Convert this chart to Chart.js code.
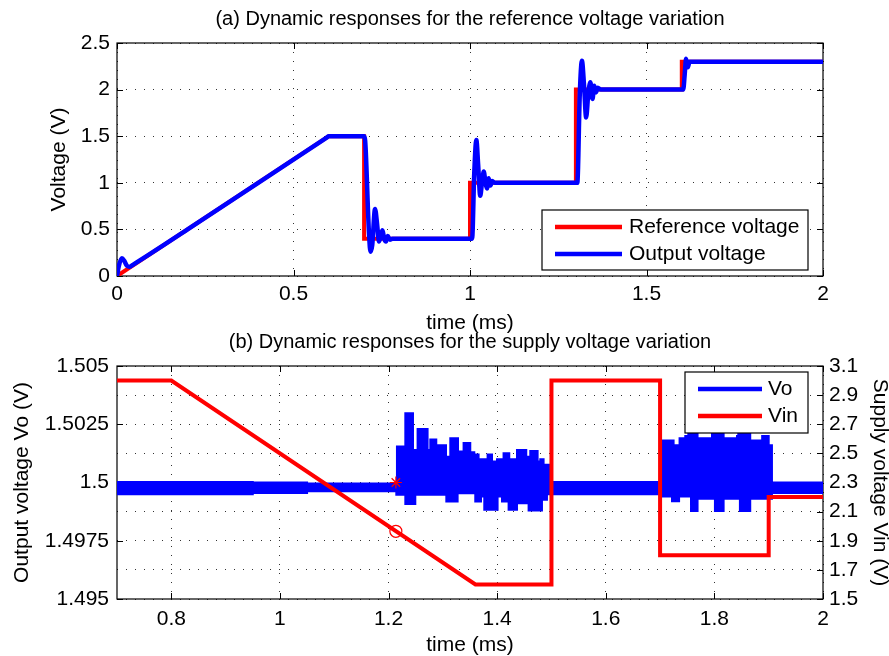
<!DOCTYPE html>
<html>
<head>
<meta charset="utf-8">
<title>Dynamic responses</title>
<script src="https://cdn.jsdelivr.net/npm/chart.js@4.4.0/dist/chart.umd.min.js"></script>
<style>
    html, body { margin: 0; padding: 0; background: #fff; }
    #wrap { position: relative; width: 889px; height: 656px; overflow: hidden; }
    canvas { position: absolute; left: 0; }
    #chartA { top: 0; }
    #chartB { top: 320px; }
</style>
</head>
<body>
<div id="wrap">
    <canvas id="chartA" width="889" height="340"></canvas>
    <canvas id="chartB" width="889" height="336"></canvas>
</div>
<script>
// (a) reference voltage variation
const refTime = [0, 0.6, 0.7, 0.7, 1.0, 1.0, 1.3, 1.3, 1.6, 1.6, 2.0];
const refVolt = [0, 1.5, 1.5, 0.4, 0.4, 1.0, 1.0, 2.0, 2.0, 2.3, 2.3];

const outTime = [0, 0.006, 0.014, 0.021, 0.028, 0.036, 0.045, 0.2, 0.4, 0.594, 0.6,
    0.701, 0.714, 0.718, 0.723, 0.731, 0.737, 0.742, 0.747, 0.752, 0.757, 0.762, 0.767, 0.773, 0.78,
    1.006, 1.012, 1.018, 1.023, 1.029, 1.034, 1.039, 1.044, 1.048, 1.053, 1.058, 1.063, 1.07,
    1.304, 1.311, 1.317, 1.323, 1.329, 1.335, 1.341, 1.347, 1.352, 1.357, 1.362, 1.37,
    1.604, 1.608, 1.612, 1.617, 1.622, 2.0];
const outVolt = [0, 0.12, 0.19, 0.16, 0.11, 0.1, 0.12, 0.5, 1.0, 1.485, 1.5,
    1.5, 0.45, 0.26, 0.33, 0.72, 0.55, 0.37, 0.42, 0.49, 0.4, 0.37, 0.43, 0.39, 0.4,
    0.4, 1.1, 1.46, 1.2, 0.86, 1.0, 1.12, 1.0, 0.94, 1.05, 0.97, 1.02, 1.0,
    1.0, 1.95, 2.31, 2.05, 1.7, 1.95, 2.08, 1.9, 2.04, 1.97, 2.02, 2.0,
    2.0, 2.15, 2.33, 2.24, 2.3, 2.3];

const xTicksA = [0, 0.5, 1, 1.5, 2];
const yTicksA = [0, 0.5, 1, 1.5, 2, 2.5];

// (b) supply voltage variation
const vinTime = [0.7, 0.8, 1.36, 1.5, 1.5, 1.7, 1.7, 1.9, 1.9, 2.0];
const vinVolt = [3.0, 3.0, 1.6, 1.6, 3.0, 3.0, 1.8, 1.8, 2.2, 2.2];

// Vo ripple band, upper and lower edge: each level holds until the next start time
const voHiStart = [0.7, 0.95, 1.05, 1.2155, 1.2309, 1.245, 1.2535, 1.2719, 1.2769, 1.2879, 1.2904,
    1.3058, 1.3137, 1.3279, 1.3382, 1.3505, 1.3579, 1.3658, 1.3824, 1.3905, 1.3997, 1.4118, 1.4223,
    1.4365, 1.4536, 1.461, 1.4745, 1.4794, 1.4855, 1.4978,
    1.7035, 1.7249, 1.7359, 1.7464, 1.752, 1.769, 1.7956, 1.817, 1.8416, 1.844, 1.866, 1.888, 1.9, 1.906];
const voHiLevel = [1.50002, 1.5, 1.49996, 1.50155, 1.50297, 1.5014, 1.5023, 1.5014, 1.50185, 1.5013, 1.5016,
    1.5011, 1.5019, 1.50133, 1.5017, 1.5013, 1.5012, 1.501, 1.5012, 1.5009, 1.501, 1.50126, 1.501,
    1.5014, 1.5011, 1.50135, 1.5009, 1.501, 1.50076, 1.50002,
    1.5018, 1.5016, 1.5019, 1.502, 1.50225, 1.5019, 1.50222, 1.5019, 1.502, 1.50225, 1.5018, 1.502, 1.5016, 1.5];
const voLoStart = [0.7, 0.95, 1.05, 1.2143, 1.2309, 1.2493, 1.3064, 1.3272, 1.3597, 1.3702, 1.3763,
    1.4008, 1.4089, 1.4211, 1.4365, 1.4579, 1.4825, 1.4917,
    1.7035, 1.722, 1.735, 1.757, 1.769, 1.801, 1.817, 1.847, 1.866, 1.906];
const voLoLevel = [1.4995, 1.49955, 1.49962, 1.49947, 1.49908, 1.49947, 1.49918, 1.49954, 1.49918, 1.4994, 1.49883,
    1.4994, 1.49918, 1.49883, 1.49911, 1.4988, 1.49926, 1.4995,
    1.4994, 1.4992, 1.4994, 1.49878, 1.4993, 1.49878, 1.4993, 1.49878, 1.4993, 1.49955];

// marked instant on both traces
const markTime = [1.2135];
const markVo = [1.5];
const markVin = [1.965];

const xTicksB = [0.8, 1, 1.2, 1.4, 1.6, 1.8, 2];
const yTicksVo = [1.495, 1.4975, 1.5, 1.5025, 1.505];
const yTicksVin = [1.5, 1.7, 1.9, 2.1, 2.3, 2.5, 2.7, 2.9, 3.1];

const BLUE = '#0000ff';
const RED = '#ff0000';
const INK = '#000000';
const GRID = 'rgba(0, 0, 0, 0.8)';
const FAMILY = "'Liberation Sans', Arial, Helvetica, sans-serif";
const TEXT = { family: FAMILY, size: 21 };

Chart.defaults.color = INK;
Chart.defaults.font.family = FAMILY;
Chart.defaults.font.size = 21;

function toPoints(xs, ys) {
    return xs.map((x, i) => ({ x: x, y: ys[i] }));
}

function toSteps(starts, levels, end) {
    const pts = [];
    starts.forEach((t, i) => {
        const next = i < starts.length - 1 ? starts[i + 1] : end;
        pts.push({ x: t, y: levels[i] }, { x: next, y: levels[i] });
    });
    return pts;
}

function fixedTicks(list) {
    return scale => { scale.ticks = list.map(v => ({ value: v })); };
}

// black box round the plot area, with short inward tick marks
const axesFrame = {
    id: 'axesFrame',
    beforeDatasetsDraw(chart) {
        const { ctx, chartArea: a } = chart;
        const len = 6;
        const vertical = Object.values(chart.scales).filter(s => !s.isHorizontal());
        ctx.save();
        ctx.strokeStyle = INK;
        ctx.lineWidth = 1.2;
        ctx.strokeRect(a.left, a.top, a.right - a.left, a.bottom - a.top);
        ctx.lineWidth = 1;
        ctx.beginPath();
        Object.values(chart.scales).forEach(s => {
            s.ticks.forEach(t => {
                const p = Math.round(s.getPixelForValue(t.value)) + 0.5;
                if (s.isHorizontal()) {
                    ctx.moveTo(p, a.bottom); ctx.lineTo(p, a.bottom - len);
                    ctx.moveTo(p, a.top); ctx.lineTo(p, a.top + len);
                } else {
                    if (vertical.length === 1 || s.position === 'left') {
                        ctx.moveTo(a.left, p); ctx.lineTo(a.left + len, p);
                    }
                    if (vertical.length === 1 || s.position === 'right') {
                        ctx.moveTo(a.right, p); ctx.lineTo(a.right - len, p);
                    }
                }
            });
        });
        ctx.stroke();
        ctx.restore();
    }
};

// boxed legend drawn at a fixed spot inside the axes
const boxLegend = {
    id: 'boxLegend',
    afterDraw(chart, args, opts) {
        const { ctx } = chart;
        const b = opts.box;
        ctx.save();
        ctx.fillStyle = '#fff';
        ctx.fillRect(b.x, b.y, b.w, b.h);
        ctx.strokeStyle = INK;
        ctx.lineWidth = 1.2;
        ctx.strokeRect(b.x, b.y, b.w, b.h);
        ctx.font = '21px ' + FAMILY;
        ctx.textBaseline = 'middle';
        ctx.textAlign = 'left';
        opts.items.forEach((idx, i) => {
            const ds = chart.data.datasets[idx];
            const y = b.y + opts.rowTop + i * opts.rowGap;
            ctx.strokeStyle = ds.borderColor;
            ctx.lineWidth = 4.5;
            ctx.beginPath();
            ctx.moveTo(b.x + opts.lineLeft, y);
            ctx.lineTo(b.x + opts.lineLeft + opts.lineLen, y);
            ctx.stroke();
            ctx.fillStyle = INK;
            ctx.fillText(ds.label, b.x + opts.textLeft, y);
        });
        ctx.restore();
    }
};

const gridStyle = { color: GRID, lineWidth: 1, drawTicks: false };
const gridBorder = { display: false, dash: [1, 8] };

new Chart(document.getElementById('chartA'), {
    type: 'line',
    data: {
        datasets: [
            {
                label: 'Output voltage',
                data: toPoints(outTime, outVolt),
                borderColor: BLUE,
                borderWidth: 4.5,
                pointRadius: 0,
                cubicInterpolationMode: 'monotone',
                order: 0
            },
            {
                label: 'Reference voltage',
                data: toPoints(refTime, refVolt),
                borderColor: RED,
                borderWidth: 4,
                pointRadius: 0,
                order: 1
            }
        ]
    },
    options: {
        responsive: false,
        animation: false,
        events: [],
        layout: { padding: { left: 0, right: 66, top: 0, bottom: 0 } },
        plugins: {
            legend: { display: false },
            tooltip: { enabled: false },
            title: {
                display: true,
                fullSize: false,
                text: '(a) Dynamic responses for the reference voltage variation',
                color: INK,
                font: { family: FAMILY, size: 20, weight: 'normal' },
                padding: { top: 7, bottom: 12 }
            },
            boxLegend: {
                box: { x: 542, y: 210, w: 266, h: 60 },
                items: [1, 0],
                rowTop: 17, rowGap: 27,
                lineLeft: 13, lineLen: 67, textLeft: 87
            }
        },
        scales: {
            x: {
                type: 'linear', min: 0, max: 2,
                afterBuildTicks: fixedTicks(xTicksA),
                afterFit: s => { s.height = 64; },
                grid: gridStyle,
                border: gridBorder,
                ticks: { padding: 6, font: TEXT, maxRotation: 0, autoSkip: false, callback: v => String(v) },
                title: { display: true, text: 'time (ms)', font: TEXT, padding: { top: 0, bottom: 4 } }
            },
            y: {
                type: 'linear', min: 0, max: 2.5,
                afterBuildTicks: fixedTicks(yTicksA),
                afterFit: s => { s.width = 117; },
                grid: gridStyle,
                border: gridBorder,
                ticks: { padding: 7, font: TEXT, autoSkip: false, callback: v => String(v) },
                title: { display: true, text: 'Voltage (V)', font: TEXT, padding: { top: 47, bottom: 0 } }
            }
        }
    },
    plugins: [axesFrame, boxLegend]
});

new Chart(document.getElementById('chartB'), {
    type: 'line',
    data: {
        datasets: [
            {
                label: 'Vin',
                data: toPoints(vinTime, vinVolt),
                yAxisID: 'y1',
                borderColor: RED,
                borderWidth: 4,
                pointRadius: 0,
                order: 0
            },
            {
                label: 'Vin mark',
                data: toPoints(markTime, markVin),
                yAxisID: 'y1',
                showLine: false,
                pointStyle: 'circle',
                pointRadius: 6,
                pointBorderWidth: 1.2,
                pointBorderColor: RED,
                pointBackgroundColor: 'rgba(0,0,0,0)',
                order: 0
            },
            {
                label: 'Vo mark',
                data: toPoints(markTime, markVo),
                yAxisID: 'y',
                showLine: false,
                pointStyle: 'star',
                pointRadius: 6,
                pointBorderWidth: 1.2,
                pointBorderColor: RED,
                order: 0
            },
            {
                label: 'Vo',
                data: toSteps(voHiStart, voHiLevel, 2),
                yAxisID: 'y',
                borderColor: BLUE,
                backgroundColor: BLUE,
                borderWidth: 2,
                pointRadius: 0,
                fill: '+1',
                order: 1
            },
            {
                label: 'Vo low',
                data: toSteps(voLoStart, voLoLevel, 2),
                yAxisID: 'y',
                borderColor: BLUE,
                borderWidth: 2,
                pointRadius: 0,
                fill: false,
                order: 1
            }
        ]
    },
    options: {
        responsive: false,
        animation: false,
        events: [],
        layout: { padding: 0 },
        plugins: {
            legend: { display: false },
            tooltip: { enabled: false },
            title: {
                display: true,
                fullSize: false,
                text: '(b) Dynamic responses for the supply voltage variation',
                color: INK,
                font: { family: FAMILY, size: 20, weight: 'normal' },
                padding: { top: 10, bottom: 12 }
            },
            boxLegend: {
                box: { x: 685, y: 52, w: 123, h: 61 },
                items: [3, 0],
                rowTop: 17, rowGap: 27,
                lineLeft: 13, lineLen: 64, textLeft: 83
            }
        },
        scales: {
            x: {
                type: 'linear', min: 0.7, max: 2,
                afterBuildTicks: fixedTicks(xTicksB),
                afterFit: s => { s.height = 57; },
                grid: gridStyle,
                border: gridBorder,
                ticks: { padding: 8, font: TEXT, maxRotation: 0, autoSkip: false, callback: v => String(v) },
                title: { display: true, text: 'time (ms)', font: TEXT, padding: { top: 0, bottom: -2 } }
            },
            y: {
                type: 'linear', position: 'left', min: 1.495, max: 1.505,
                afterBuildTicks: fixedTicks(yTicksVo),
                afterFit: s => { s.width = 117; },
                grid: { display: false, drawTicks: false },
                border: { display: false },
                ticks: { padding: 8, font: TEXT, autoSkip: false, callback: v => String(v) },
                title: { display: true, text: 'Output voltage Vo (V)', font: TEXT, padding: { top: 10, bottom: 0 } }
            },
            y1: {
                type: 'linear', position: 'right', min: 1.5, max: 3.1,
                afterBuildTicks: fixedTicks(yTicksVin),
                afterFit: s => { s.width = 66; },
                grid: gridStyle,
                border: gridBorder,
                ticks: { padding: 6, font: TEXT, autoSkip: false, callback: v => String(v) },
                title: { display: true, text: 'Supply voltage Vin (V)', font: TEXT, padding: { top: -3, bottom: 0 } }
            }
        }
    },
    plugins: [axesFrame, boxLegend]
});
</script>
</body>
</html>
